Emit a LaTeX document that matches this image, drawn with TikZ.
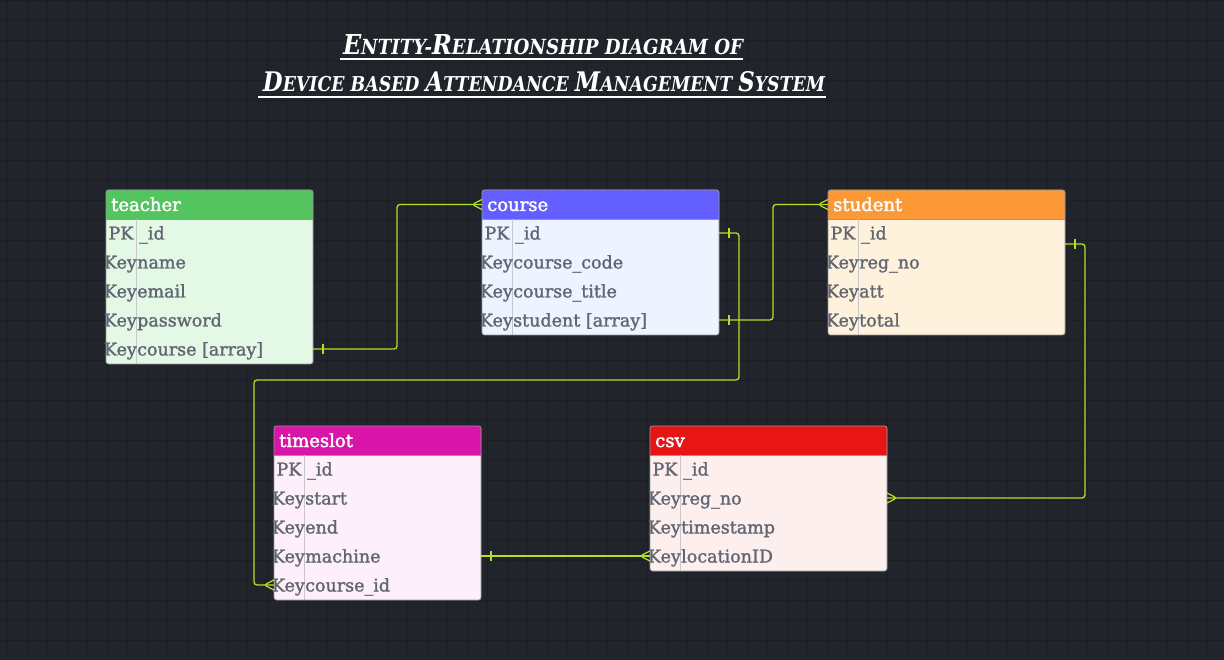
\documentclass[tikz,border=0pt]{standalone}
\usepackage{fontspec}
\usepackage{graphicx}
\setmainfont{DejaVu Serif}
\newfontfamily\titlefont{DejaVu Serif}
\newfontface\rowfont{DejaVu Serif}[FakeBold=1.5]
\newfontface\headfont{DejaVu Serif}[FakeBold=2]
\usetikzlibrary{calc,decorations.markings}

\definecolor{bg}{RGB}{33,36,43}
\definecolor{gridc}{RGB}{27,30,36}
\definecolor{relc}{RGB}{178,224,38}
\definecolor{keygray}{RGB}{98,102,114}
\definecolor{borderc}{RGB}{150,150,155}
\definecolor{divc}{RGB}{200,200,204}
\definecolor{headG}{RGB}{84,196,94}
\definecolor{bodyG}{RGB}{227,248,229}
\definecolor{headB}{RGB}{99,94,255}
\definecolor{bodyB}{RGB}{237,243,255}
\definecolor{headO}{RGB}{253,152,55}
\definecolor{bodyO}{RGB}{254,242,220}
\definecolor{headM}{RGB}{216,21,168}
\definecolor{bodyM}{RGB}{254,240,250}
\definecolor{headR}{RGB}{232,21,21}
\definecolor{bodyR}{RGB}{253,239,238}

\tikzset{
  tbody/.style={inner sep=0pt, outer sep=0pt, draw=none},
  tborder/.style={draw=borderc, line width=0.8pt, rounded corners=2.5pt},
  hsep/.style={draw=borderc, line width=0.8pt},
  divline/.style={draw=divc, line width=0.8pt},
  ftext/.style={font=\rowfont\fontsize{17.5}{20}\selectfont, text=keygray, text height=13pt, text depth=0pt, inner sep=0pt},
  htext/.style={font=\headfont\fontsize{18}{20}\selectfont, text=white, text height=13pt, text depth=0pt, inner sep=0pt},
  titletext/.style={font=\titlefont\bfseries\itshape, text=white, inner sep=0pt},
  gridline/.style={draw=gridc, line width=0.8pt},
  rel/.style={draw=relc, line width=1.3pt, rounded corners=3pt,
    postaction={decorate},
    decoration={markings,
      mark=at position 10pt with {\draw[relc, line width=1.2pt] (0pt,-5pt) -- (0pt,5pt);},
      mark=at position -10pt with {\draw[relc, line width=1.2pt] (10pt,5pt) -- (0pt,0pt) -- (10pt,-5pt);}}},
}

\newcommand\ERtab[9]{%
  \node[tbody, minimum width=#4pt, minimum height={(#5+2)*29pt}, anchor=north west] (#1) at (#2,#3) {};
  \fill[#7, rounded corners=2.5pt] (#1.north west) rectangle (#1.south east);
  \begin{scope}
    \clip[rounded corners=2.5pt] (#1.north west) rectangle (#1.south east);
    \fill[#6] (#1.north west) rectangle ($(#1.north east)+(0,29)$);
  \end{scope}
  \draw[hsep] ($(#1.north west)+(0,29)$) -- ($(#1.north east)+(0,29)$);
  \draw[divline] ($(#1.north west)+(30,29)$) -- ($(#1.south west)+(30,0)$);
  \draw[tborder] (#1.north west) rectangle (#1.south east);
  \node[htext, anchor=west] (#1-title) at ($(#1.north west)+(5,14.5)$) {#8};
  \coordinate (#1-h-w) at ($(#1.north west)+(0,14.5)$);
  \node[ftext] (#1-pk) at ($(#1.north west)+(15,43)$) {PK};
  \node[ftext, anchor=west] (#1-f0) at ($(#1.north west)+(33,43)$) {\_id};
  \coordinate (#1-r0-e) at ($(#1.north east)+(0,43)$);
  \coordinate (#1-r0-w) at ($(#1.north west)+(0,43)$);
  \foreach \f [count=\i] in {#9} {
    \node[ftext, anchor=east] (#1-k\i) at ($(#1.north west)+(31,43+29*\i)$) {Key};
    \node[ftext, anchor=west] (#1-f\i) at ($(#1.north west)+(31,43+29*\i)$) {\f};
    \coordinate (#1-r\i-e) at ($(#1.north east)+(0,43+29*\i)$);
    \coordinate (#1-r\i-w) at ($(#1.north west)+(0,43+29*\i)$);
  }
}

\newcommand\sccap[2]{{\fontsize{27}{30}\selectfont #1}{\fontsize{20.5}{30}\selectfont #2}}

\begin{document}
\begin{tikzpicture}[x=1pt, y=-1pt]
  \useasboundingbox (0,0) rectangle (1224,660);
  \fill[bg] (0,0) rectangle (1224,660);
  \foreach \gx in {7,27,...,1224} { \draw[gridline] (\gx,0) -- (\gx,660); }
  \foreach \gy in {0,20,...,660} { \draw[gridline] (0,\gy) -- (1224,\gy); }

  % title
  \node[titletext, anchor=base] (title1) at (543,55)
    {\resizebox{400pt}{20pt}{\fontsize{20.5}{30}\selectfont\sccap{E}{NTITY-}\sccap{R}{ELATIONSHIP} DIAGRAM OF}};
  \node[titletext, anchor=base] (title2) at (544,92)
    {\resizebox{562pt}{20pt}{\fontsize{20.5}{30}\selectfont\sccap{D}{EVICE} BASED \sccap{A}{TTENDANCE} \sccap{M}{ANAGEMENT} \sccap{S}{YSTEM}}};
  \draw[white, line width=2pt] ($(title1.base west)+(-3,4.5)$) -- ($(title1.base east)+(0,4.5)$);
  \draw[white, line width=2pt] ($(title2.base west)+(-5,5)$) -- ($(title2.base east)+(1,5)$);

  % tables
  \ERtab{teacher}{106}{190}{207}{4}{headG}{bodyG}{teacher}{name,email,password,course [array]}
  \ERtab{course}{482}{190}{237}{3}{headB}{bodyB}{course}{course\_code,course\_title,student [array]}
  \ERtab{student}{828}{190}{237}{3}{headO}{bodyO}{student}{reg\_no,att,total}
  \ERtab{timeslot}{274}{426}{207}{4}{headM}{bodyM}{timeslot}{start,end,machine,course\_id}
  \ERtab{csv}{650}{426}{237}{3}{headR}{bodyR}{csv}{reg\_no,timestamp,locationID}

  % relationships
  \draw[rel] (teacher-r4-e) -- ++(84,0) |- (course-h-w);
  \draw[rel] (course-r0-e) -- ++(20,0) -- ++(0,147) -| ($(timeslot-r4-w)+(-20,0)$) -- (timeslot-r4-w);
  \draw[rel] (course-r3-e) -- ++(54,0) |- (student-h-w);
  \draw[rel] ($(student-r0-e)+(0,11)$) -- ++(20,0) |- (csv-r1-e);
  \draw[rel] (timeslot-r3-e) -- (csv-r3-w);
\end{tikzpicture}
\end{document}
